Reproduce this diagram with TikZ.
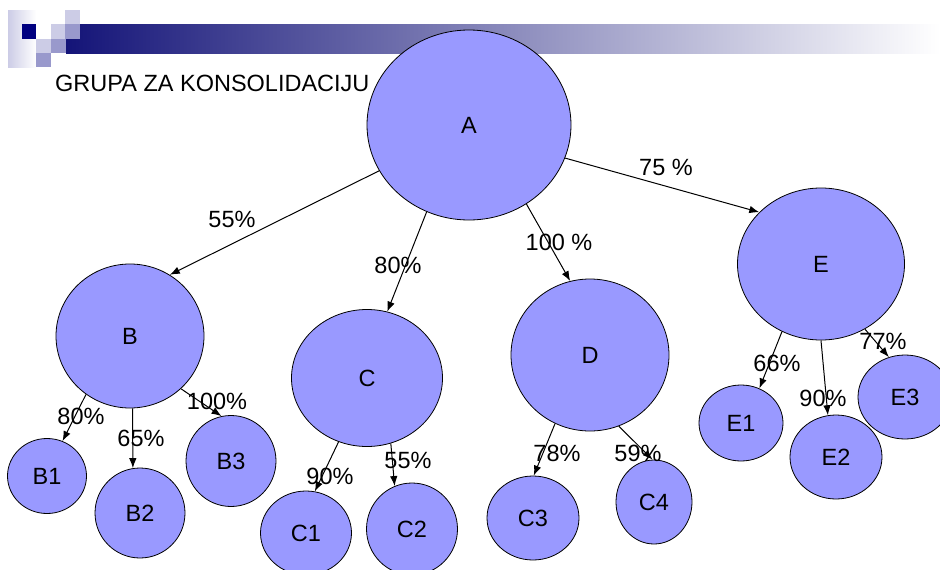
\documentclass[tikz,border=0pt]{standalone}
\usepackage{fontspec}
\setmainfont{Liberation Sans}
\usetikzlibrary{shapes.geometric,arrows.meta}
\definecolor{firma}{RGB}{153,153,255}
\definecolor{logonavy}{RGB}{0,0,128}
\definecolor{logolight}{RGB}{204,204,230}
\definecolor{logomid}{RGB}{153,153,204}
\definecolor{trakanavy}{RGB}{20,20,120}
\definecolor{trakamid}{RGB}{160,160,184}
\tikzset{%
    Firma node/.style={%
        ellipse,
        draw=black,
        line width=.8pt,
        fill=firma,
        inner sep=0pt,
        font=\fontsize{23.5}{28}\selectfont
    },
    Udio node/.style={%
        inner sep=0pt,
        font=\fontsize{23.5}{28}\selectfont
    },
    Udio arrow/.style={%
        ->,
        >={Latex[length=10pt,width=7.5pt]},
        line width=1pt
    }
}
\NewDocumentCommand{\Firma}{%
    m   % ime (i tekst)
    m   % sredina
    m   % sirina
    m   % visina
    }{%
    \node[Firma node,minimum width=#3,minimum height=#4] (#1) at #2 {#1};
    }

\begin{document}
\begin{tikzpicture}[x=1pt,y=-1pt]
\useasboundingbox (0,0) rectangle (940,570);

% traka i logo
\shade[left color=trakanavy,middle color=trakamid,right color=white]
    (66,24) rectangle (940,53);
\shade[left color=logolight,right color=white] (8,10) rectangle (36,67);
\fill[logonavy] (22,24) rectangle (36,39);
\fill[logolight] (65,10) rectangle (80,24);
\fill[logolight] (51,24) rectangle (65,39);
\fill[logomid] (65,24) rectangle (80,39);
\fill[logolight] (36,39) rectangle (51,53);
\fill[logomid] (51,39) rectangle (66,53);
\fill[logomid] (36,53) rectangle (51,67);

\node[Udio node,anchor=base west] (naslov) at (55,91)
    {GRUPA ZA KONSOLIDACIJU};

\Firma{A}{(469,125)}{204pt}{190pt}
\Firma{B}{(130,336)}{148pt}{144pt}
\Firma{C}{(367,378)}{151pt}{137pt}
\Firma{D}{(590,355)}{158pt}{152pt}
\Firma{E}{(821,264)}{167pt}{152pt}
\Firma{B1}{(47,476)}{79pt}{75pt}
\Firma{B2}{(140,513)}{90pt}{90pt}
\Firma{B3}{(231,461)}{90pt}{91pt}
\Firma{C1}{(306,533)}{91pt}{84pt}
\Firma{C2}{(412,529)}{91pt}{92pt}
\Firma{C3}{(533,518)}{92pt}{84pt}
\Firma{C4}{(654,502)}{76pt}{84pt}
\Firma{E1}{(741,423)}{84pt}{76pt}
\Firma{E2}{(836,457)}{92pt}{84pt}
\Firma{E3}{(905,397)}{94pt}{84pt}

\draw[Udio arrow] (A.207) -- (B.57);
\draw[Udio arrow] (A.244) -- (C.73);
\draw[Udio arrow] (A.306) -- (D.105);
\draw[Udio arrow] (A.341) -- (E.140);

\draw[Udio arrow] (B.233) -- (B1.66);
\draw[Udio arrow] (B.272) -- (B2.99);
\draw[Udio arrow] (B.314) -- (B3.102);
\draw[Udio arrow] (C.246) -- (C1.78);
\draw[Udio arrow] (C.290) -- (C2.112);
\draw[Udio arrow] (D.243) -- (C3.89);
\draw[Udio arrow] (D.292) -- (C4.92);
\draw[Udio arrow] (E.240) -- (E1.62);
\draw[Udio arrow] (E.270) -- (E2.101);
\draw[Udio arrow] (E.304) -- (E3.112);

\node[Udio node] (uAB) at (232,219) {55\%};
\node[Udio node] (uAC) at (398,265) {80\%};
\node[Udio node] (uAD) at (559,242) {100 \%};
\node[Udio node] (uAE) at (666,167) {75 \%};
\node[Udio node] (uB1) at (81,416) {80\%};
\node[Udio node] (uB2) at (141,438) {65\%};
\node[Udio node] (uB3) at (217,401) {100\%};
\node[Udio node] (uC1) at (330,476) {90\%};
\node[Udio node] (uC2) at (408,460) {55\%};
\node[Udio node] (uC3) at (557,453) {78\%};
\node[Udio node] (uC4) at (638,453) {59\%};
\node[Udio node] (uE1) at (777,363) {66\%};
\node[Udio node] (uE2) at (823,398) {90\%};
\node[Udio node] (uE3) at (883,341) {77\%};

\end{tikzpicture}
\end{document}
